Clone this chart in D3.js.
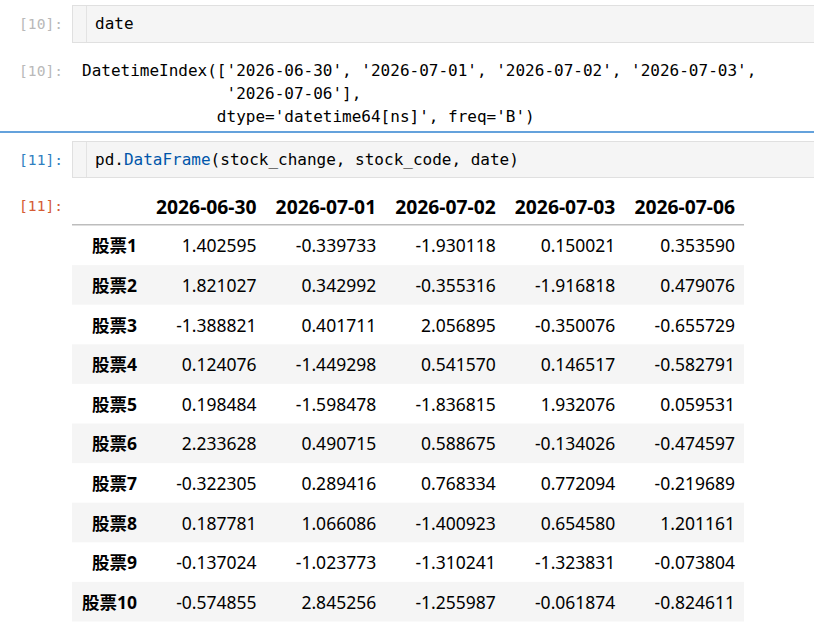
<!DOCTYPE html>
<html>
<head>
<meta charset="utf-8">
<script src="https://cdn.jsdelivr.net/npm/d3@7"></script>
<style>
  body { margin: 0; background: #fff; }
  .mono { font-family: "DejaVu Sans Mono", "Liberation Mono", monospace; }
  .tbl { font-family: "Noto Sans", "Noto Sans CJK SC", sans-serif; fill: #000; }
</style>
</head>
<body>
<div class="chart"></div>
<script>
// Data
const dates = ['2026-06-30', '2026-07-01', '2026-07-02', '2026-07-03', '2026-07-06']
const stockCode = ['股票1', '股票2', '股票3', '股票4', '股票5', '股票6', '股票7', '股票8', '股票9', '股票10']
const stockChange = [
    [1.402595, -0.339733, -1.930118, 0.150021, 0.353590],
    [1.821027, 0.342992, -0.355316, -1.916818, 0.479076],
    [-1.388821, 0.401711, 2.056895, -0.350076, -0.655729],
    [0.124076, -1.449298, 0.541570, 0.146517, -0.582791],
    [0.198484, -1.598478, -1.836815, 1.932076, 0.059531],
    [2.233628, 0.490715, 0.588675, -0.134026, -0.474597],
    [-0.322305, 0.289416, 0.768334, 0.772094, -0.219689],
    [0.187781, 1.066086, -1.400923, 0.654580, 1.201161],
    [-0.137024, -1.023773, -1.310241, -1.323831, -0.073804],
    [-0.574855, 2.845256, -1.255987, -0.061874, -0.824611]
]
const outputLines = [
    "DatetimeIndex(['2026-06-30', '2026-07-01', '2026-07-02', '2026-07-03',",
    "               '2026-07-06'],",
    "              dtype='datetime64[ns]', freq='B')"
]

// Dimensions
const width = 814
const height = 634

const svg = d3.select('.chart')
    .append('svg')
    .attr('width', width)
    .attr('height', height)

// ---- cell [10] input ----
svg.append('rect')
    .attr('x', 72.5).attr('y', 5.5)
    .attr('width', 760).attr('height', 37)
    .attr('fill', '#f5f5f5').attr('stroke', '#e0e0e0')
svg.append('line')
    .attr('x1', 86.5).attr('x2', 86.5).attr('y1', 6).attr('y2', 42)
    .attr('stroke', '#e3e3e3')

function prompt(y, label, color) {
    svg.append('text')
        .classed('mono', true)
        .attr('x', 63).attr('y', y)
        .attr('text-anchor', 'end')
        .attr('font-size', 14.6)
        .attr('fill', color)
        .text(label)
}

prompt(29, '[10]:', '#b9b9b9')
svg.append('text')
    .classed('mono', true)
    .attr('x', 95).attr('y', 29)
    .attr('font-size', 16)
    .attr('fill', '#000')
    .text('date')

// ---- cell [10] output ----
prompt(76, '[10]:', '#b9b9b9')
svg.append('g')
    .selectAll('text')
    .data(outputLines)
    .join('text')
    .classed('mono', true)
    .attr('x', 82)
    .attr('y', (d, i) => 76 + i * 23)
    .attr('font-size', 16)
    .attr('fill', '#000')
    .attr('xml:space', 'preserve')
    .style('white-space', 'pre')
    .text(d => d)

// selected cell marker
svg.append('rect')
    .attr('x', 0).attr('y', 131)
    .attr('width', width).attr('height', 2)
    .attr('fill', '#64a2dc')

// ---- cell [11] input ----
svg.append('rect')
    .attr('x', 72.5).attr('y', 141.5)
    .attr('width', 760).attr('height', 36)
    .attr('fill', '#f5f5f5').attr('stroke', '#e0e0e0')
svg.append('line')
    .attr('x1', 86.5).attr('x2', 86.5).attr('y1', 142).attr('y2', 177)
    .attr('stroke', '#e3e3e3')
prompt(165, '[11]:', '#307fc1')
const code = svg.append('text')
    .classed('mono', true)
    .attr('x', 95).attr('y', 165)
    .attr('font-size', 16)
    .attr('fill', '#000')
code.append('tspan').text('pd.')
code.append('tspan').attr('fill', '#0055aa').text('DataFrame')
code.append('tspan').text('(stock_change, stock_code, date)')

// ---- cell [11] output: DataFrame table ----
prompt(211, '[11]:', '#d55c35')

const tableLeft = 72
const tableRight = 744
const indexRight = 146
const headerTop = 188
const bodyTop = 225.5
const bodyBottom = 621.5
const cellPad = 9

const xScale = d3.scaleBand()
    .domain(dates)
    .range([indexRight, tableRight])

const yScale = d3.scaleBand()
    .domain(stockCode)
    .range([bodyTop, bodyBottom])

const tbl = svg.append('g').classed('tbl', true)

// striped rows
tbl.selectAll('rect.stripe')
    .data(stockCode.filter((d, i) => i % 2 === 1))
    .join('rect')
    .classed('stripe', true)
    .attr('x', tableLeft)
    .attr('y', d => yScale(d))
    .attr('width', tableRight - tableLeft)
    .attr('height', yScale.bandwidth())
    .attr('fill', '#f5f5f5')

// header line
tbl.append('rect')
    .attr('x', tableLeft).attr('y', bodyTop - 1.5)
    .attr('width', tableRight - tableLeft).attr('height', 1.5)
    .attr('fill', '#bdbdbd')

// header labels
const headerY = (headerTop + bodyTop) / 2
tbl.selectAll('text.header')
    .data(dates)
    .join('text')
    .classed('header', true)
    .attr('x', d => xScale(d) + xScale.bandwidth() - cellPad)
    .attr('y', headerY)
    .attr('text-anchor', 'end')
    .attr('dominant-baseline', 'central')
    .attr('font-size', 19.3)
    .attr('font-weight', 'bold')
    .text(d => d)

// index labels
tbl.selectAll('text.index')
    .data(stockCode)
    .join('text')
    .classed('index', true)
    .attr('x', indexRight - cellPad)
    .attr('y', d => yScale(d) + yScale.bandwidth() / 2)
    .attr('text-anchor', 'end')
    .attr('dominant-baseline', 'central')
    .attr('font-size', 17.5)
    .attr('font-weight', 'bold')
    .text(d => d)

// values, pandas style: plain hyphen for minus
const fmt = d3.formatLocale({
    decimal: '.', thousands: ',', grouping: [3], currency: ['', ''], minus: '-'
}).format('.6f')
const cells = stockChange.flatMap((row, i) =>
    row.map((v, j) => ({ code: stockCode[i], date: dates[j], value: v })))

tbl.selectAll('text.cell')
    .data(cells)
    .join('text')
    .classed('cell', true)
    .attr('x', d => xScale(d.date) + xScale.bandwidth() - cellPad)
    .attr('y', d => yScale(d.code) + yScale.bandwidth() / 2)
    .attr('text-anchor', 'end')
    .attr('dominant-baseline', 'central')
    .attr('font-size', 17.5)
    .text(d => fmt(d.value))
</script>
</body>
</html>
